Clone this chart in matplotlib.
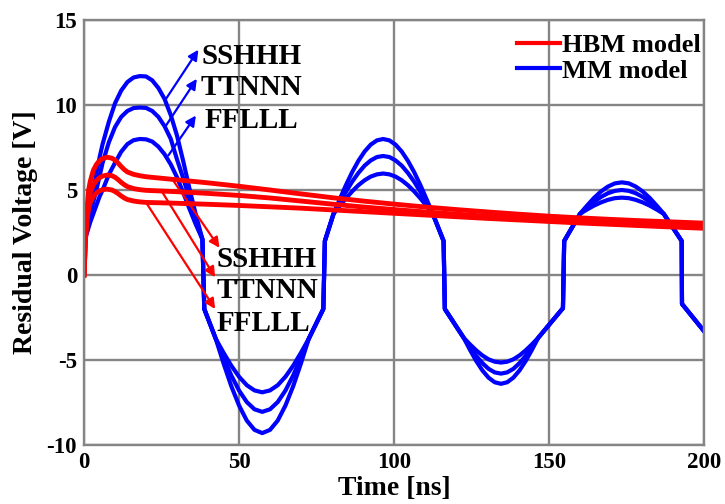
import matplotlib
matplotlib.use('Agg')
import matplotlib.pyplot as plt
from matplotlib.lines import Line2D

plt.rcParams['font.family'] = ['Liberation Serif', 'DejaVu Serif']
plt.rcParams['font.weight'] = 'bold'
plt.rcParams['axes.unicode_minus'] = False

# MM model (blue) - time samples shared by the three corners
t_mm = [0, 0.3, 1, 2, 3, 4, 5, 6, 8, 10, 12, 14, 16, 18, 20, 22, 24, 26, 28, 30, 32, 34, 36, 38.2,
        38.8, 42.5, 45, 47.5, 50, 52.5, 55, 57.5, 60, 62.5, 65, 67.5, 70, 72.5, 77.2,
        77.7, 80.5, 82.5, 84.5, 86.5, 88.5, 90.5, 92.5, 94.5, 96.5, 98.5, 100.5, 102.5, 104.5, 106.5,
        108.5, 110.5, 112.5, 116.0,
        116.4, 122.5, 124.5, 126.5, 128.5, 130.5, 132.5, 134.5, 136.5, 138.5, 140.5, 142.5, 144.5,
        146.5, 154.5,
        154.9, 160, 162.25, 164.5, 166.75, 169, 171.25, 173.5, 175.75, 178, 180.25, 182.5, 184.75,
        187, 192.8,
        192.9, 200]
mm_sshhh = [0, 2.1, 2.9, 3.9, 4.9, 6.0, 6.9, 7.7, 9.0, 10.1, 10.85, 11.35, 11.62, 11.7, 11.68, 11.45,
            11.0, 10.35, 9.4, 8.2, 6.7, 5.1, 3.6, 2.1,
            -2.0, -3.75, -5.19, -6.53, -7.67, -8.56, -9.11, -9.3, -9.11, -8.56, -7.67, -6.53, -5.19,
            -3.75, -2.0,
            2.0, 3.6, 4.46, 5.29, 6.05, 6.71, 7.26, 7.67, 7.92, 8.0, 7.92, 7.67, 7.26, 6.71, 6.05,
            5.29, 4.46, 3.6, 2.0,
            -2.0, -3.7, -4.40, -5.05, -5.61, -6.04, -6.31, -6.4, -6.31, -6.04, -5.61, -5.05, -4.40,
            -3.7, -1.95,
            2.0, 3.6, 4.08, 4.53, 4.91, 5.20, 5.39, 5.45, 5.39, 5.20, 4.91, 4.53, 4.08, 3.6, 2.0,
            -1.7, -3.3]
mm_ttnnn = [0, 2.1, 2.7, 3.5, 4.3, 5.0, 5.8, 6.6, 7.8, 8.7, 9.3, 9.65, 9.82, 9.85, 9.83, 9.65,
            9.3, 8.75, 8.0, 6.8, 5.7, 4.5, 3.3, 2.1,
            -2.0, -3.75, -4.86, -5.90, -6.79, -7.47, -7.90, -8.05, -7.90, -7.47, -6.79, -5.90, -4.86,
            -3.75, -2.0,
            2.0, 3.6, 4.26, 4.90, 5.49, 6.0, 6.43, 6.74, 6.94, 7.0, 6.94, 6.74, 6.43, 6.0, 5.49,
            4.90, 4.26, 3.6, 2.0,
            -2.0, -3.7, -4.24, -4.75, -5.18, -5.52, -5.73, -5.8, -5.73, -5.52, -5.18, -4.75, -4.24,
            -3.7, -1.95,
            2.0, 3.6, 3.96, 4.30, 4.59, 4.81, 4.95, 5.0, 4.95, 4.81, 4.59, 4.30, 3.96, 3.6, 2.0,
            -1.7, -3.3]
mm_fflll = [0, 2.1, 2.5, 3.1, 3.6, 4.1, 4.6, 5.0, 5.9, 6.6, 7.25, 7.7, 7.93, 8.0, 7.98, 7.85,
            7.55, 7.1, 6.5, 5.75, 4.85, 3.9, 3.0, 2.1,
            -2.0, -3.75, -4.57, -5.33, -5.98, -6.48, -6.79, -6.9, -6.79, -6.48, -5.98, -5.33, -4.57,
            -3.75, -2.0,
            2.0, 3.6, 4.06, 4.51, 4.92, 5.28, 5.57, 5.79, 5.92, 5.97, 5.92, 5.79, 5.57, 5.28, 4.92,
            4.51, 4.06, 3.6, 2.0,
            -2.0, -3.7, -4.08, -4.43, -4.73, -4.96, -5.10, -5.15, -5.10, -4.96, -4.73, -4.43, -4.08,
            -3.7, -1.95,
            2.0, 3.6, 3.85, 4.08, 4.27, 4.42, 4.52, 4.55, 4.52, 4.42, 4.27, 4.08, 3.85, 3.6, 2.0,
            -1.7, -3.3]

# HBM model (red)
t_hbm = [0, 0.5, 1, 1.5, 2, 3, 4, 5, 6, 7.5, 9, 10, 11, 12, 13, 14, 16, 18, 20, 30, 40, 50, 60,
         70, 80, 90, 100, 110, 120, 130, 140, 150, 160, 170, 180, 190, 200]
hbm_sshhh = [0, 2.6, 4.0, 5.0, 5.5, 6.15, 6.5, 6.72, 6.85, 6.93, 6.87, 6.76, 6.58, 6.38, 6.2,
             6.06, 5.92, 5.84, 5.78, 5.6, 5.42, 5.22, 5.0, 4.77, 4.55, 4.35, 4.17, 4.0, 3.85, 3.71,
             3.58, 3.46, 3.36, 3.27, 3.19, 3.12, 3.05]
hbm_ttnnn = [0, 2.3, 3.6, 4.4, 4.85, 5.3, 5.55, 5.72, 5.82, 5.88, 5.84, 5.75, 5.61, 5.45, 5.31,
             5.2, 5.08, 5.02, 4.98, 4.9, 4.8, 4.68, 4.53, 4.35, 4.17, 4.0, 3.85, 3.71, 3.58, 3.46,
             3.35, 3.25, 3.16, 3.07, 3.0, 2.92, 2.85]
hbm_fflll = [0, 2.1, 3.3, 3.9, 4.25, 4.62, 4.82, 4.95, 5.02, 5.05, 5.0, 4.91, 4.79, 4.65, 4.53,
             4.44, 4.35, 4.3, 4.27, 4.22, 4.16, 4.09, 4.01, 3.93, 3.83, 3.73, 3.63, 3.53, 3.43,
             3.33, 3.24, 3.15, 3.06, 2.98, 2.9, 2.82, 2.75]

corners = ['SSHHH', 'TTNNN', 'FFLLL']
# annotation anchors (tail on curve, arrow head, text baseline)
mm_tail = [(26.45, 10.36), (26.45, 8.79), (27.2, 7.03)]
mm_head = [(36.9, 13.25), (36.4, 11.54), (36.1, 9.38)]
mm_text_y = [12.42, 10.56, 8.63]
hbm_tail = [(28.5, 5.63), (25.0, 4.95), (20.0, 4.27)]
hbm_head = [(43.7, 1.6), (42.3, -0.13), (42.3, -2.0)]
hbm_text_y = [0.46, -1.34, -3.3]

fig = plt.figure(figsize=(7.25, 5.04), dpi=100)
ax = fig.add_axes([84/725, 1-445/504, 620/725, 425/504])

gray = '#858585'
for y in (mm_sshhh, mm_ttnnn, mm_fflll):
    ax.plot(t_mm, y, color='#0000ff', lw=3.0, solid_joinstyle='round')
for y in (hbm_sshhh, hbm_ttnnn, hbm_fflll):
    ax.plot(t_hbm, y, color='#ff0000', lw=3.5, solid_joinstyle='round')

for i, name in enumerate(corners):
    ax.annotate('', xy=mm_head[i], xytext=mm_tail[i],
                arrowprops=dict(arrowstyle='-|>', color='#0000ff', lw=1.6,
                                mutation_scale=15, shrinkA=0, shrinkB=0))
    ax.text(54.0, mm_text_y[i], name, ha='center', va='baseline',
            fontsize=21, fontweight='bold', color='black')
    ax.annotate('', xy=hbm_head[i], xytext=hbm_tail[i],
                arrowprops=dict(arrowstyle='-|>', color='#ff0000', lw=1.6,
                                mutation_scale=15, shrinkA=0, shrinkB=0))
    ax.text(42.8, hbm_text_y[i], name, ha='left', va='baseline',
            fontsize=21, fontweight='bold', color='black')

ax.set_xlim(0, 200)
ax.set_ylim(-10, 15)
ax.set_xticks([0, 50, 100, 150, 200])
ax.set_yticks([-10, -5, 0, 5, 10, 15])
ax.set_axisbelow(True)
ax.grid(True, color=gray, lw=1.7)
for sp in ax.spines.values():
    sp.set_color(gray)
    sp.set_linewidth(1.7)
ax.tick_params(length=0, labelsize=16.5, pad=5)
for lab in ax.get_xticklabels() + ax.get_yticklabels():
    lab.set_fontweight('bold')

ax.set_xlabel('Time [ns]', fontsize=20, fontweight='bold', labelpad=2)
ax.set_ylabel('Residual Voltage [V]', fontsize=20, fontweight='bold', labelpad=6)

handles = [Line2D([], [], color='#ff0000', lw=3.0), Line2D([], [], color='#0000ff', lw=3.0)]
ax.legend(handles, ['HBM model', 'MM model'], loc='upper right', bbox_to_anchor=(0.995, 0.968),
          frameon=False, prop={'weight': 'bold', 'size': 19}, handlelength=1.6,
          handletextpad=0.1, labelspacing=0.08, borderpad=0.0, borderaxespad=0.0)

fig.savefig('out.png', dpi=100)
